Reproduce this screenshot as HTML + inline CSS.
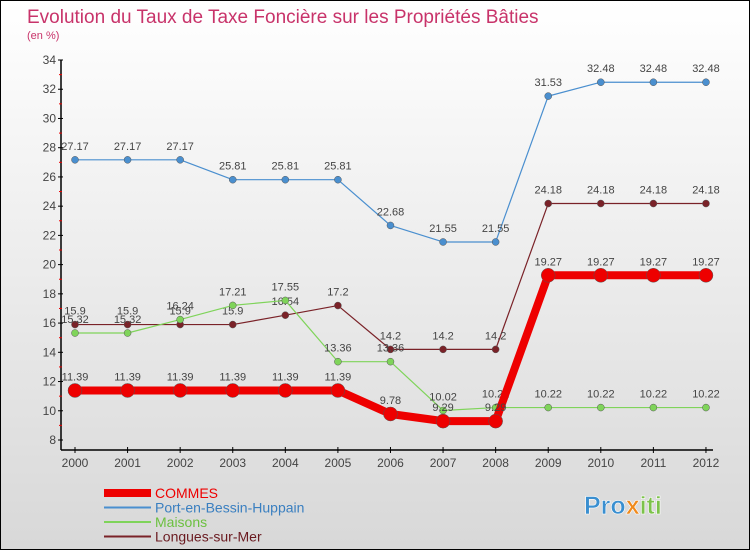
<!DOCTYPE html>
<html><head><meta charset="utf-8"><style>
body{margin:0}
#c{width:750px;height:550px;position:relative;box-sizing:border-box;border:1px solid #000;background:linear-gradient(#ffffff,#d8d8d8);font-family:"Liberation Sans",sans-serif}
</style></head><body>
<div id="c">
<svg id="s" width="748" height="548" xmlns="http://www.w3.org/2000/svg">
<text x="26" y="22" font-size="19" fill="#c8336a">Evolution du Taux de Taxe Foncière sur les Propriétés Bâties</text>
<text x="26" y="38" font-size="11" fill="#c8336a">(en %)</text>
<g id="axes"></g><g id="series"></g><g id="legend"></g>
<text x="583" y="513" font-size="25" font-weight="bold" fill="#3a8fd0" stroke="#fff" stroke-width="0.6">Pro<tspan fill="#f08a1c">x</tspan><tspan fill="#7cc24a">iti</tspan></text>
</svg>
</div>
<script>
const years=["2000","2001","2002","2003","2004","2005","2006","2007","2008","2009","2010","2011","2012"];
const yTicks=[8,10,12,14,16,18,20,22,24,26,28,30,32,34];
const commes=[11.39,11.39,11.39,11.39,11.39,11.39,9.78,9.29,9.29,19.27,19.27,19.27,19.27];
const port=[27.17,27.17,27.17,25.81,25.81,25.81,22.68,21.55,21.55,31.53,32.48,32.48,32.48];
const maisons=[15.32,15.32,16.24,17.21,17.55,13.36,13.36,10.02,10.22,10.22,10.22,10.22,10.22];
const longues=[15.9,15.9,15.9,15.9,16.54,17.2,14.2,14.2,14.2,24.18,24.18,24.18,24.18];
const seriesNames=["COMMES","Port-en-Bessin-Huppain","Maisons","Longues-sur-Mer"];
const NS="http://www.w3.org/2000/svg";
const X=i=>74+i*52.58, Y=v=>439-(v-8)*14.615;
function el(t,a,p){const e=document.createElementNS(NS,t);for(const k in a)e.setAttribute(k,a[k]);p.appendChild(e);return e;}
const ax=document.getElementById('axes');
let l=el('line',{x1:60,y1:59,x2:60,y2:449,stroke:'#000','stroke-width':1.5},ax);


l=el('line',{x1:60,y1:449,x2:712,y2:449,stroke:'#000','stroke-width':1.5},ax);


yTicks.forEach(v=>{el('line',{x1:57,x2:62,y1:Y(v),y2:Y(v),stroke:'#000'},ax);
 if(v<34)el('line',{x1:58,x2:61,y1:Y(v+1),y2:Y(v+1),stroke:'#e00'},ax);
 const t=el('text',{x:55,y:Y(v)+4,'font-size':12,fill:'#444','text-anchor':'end'},ax);t.textContent=v;
 
 });
years.forEach((y,i)=>{el('line',{x1:X(i),x2:X(i),y1:446,y2:452,stroke:'#000'},ax);
 const t=el('text',{x:X(i),y:466,'font-size':12,fill:'#444','text-anchor':'middle'},ax);t.textContent=y;
 
 });
const sg=document.getElementById('series');
function draw(data,color,w,r,name){
 const p=el('polyline',{points:data.map((v,i)=>X(i)+','+Y(v)).join(' '),fill:'none',stroke:color,'stroke-width':w,'stroke-linejoin':'round'},sg);
 
 
 data.forEach((v,i)=>{const c=el('circle',{cx:X(i),cy:Y(v),r:r,fill:color,stroke:'#555','stroke-width':0.5},sg);
  
  
  const t=el('text',{x:X(i),y:Y(v)-10,'font-size':11,fill:'#444','text-anchor':'middle'},sg);t.textContent=v;
  
  });
}
draw(port,'#4a8fcf',1.2,3.5,'port');
draw(longues,'#7a2228',1.2,3.5,'longues');
draw(maisons,'#7fd45a',1.2,3.5,'maisons');
draw(commes,'#ee0000',8,7,'commes');
const lg=document.getElementById('legend');
const cols=['#ee0000','#4a8fcf','#7fd45a','#7a2228'],ws=[8,2,2,2];
const tcols=['#ee0000','#3a7fc0','#6cc040','#6a1a20'];
seriesNames.forEach((n,i)=>{const y=492+i*14.5;
 const ln=el('line',{x1:103,x2:150,y1:y,y2:y,stroke:cols[i],'stroke-width':ws[i]},lg);
 
 
 const t=el('text',{x:154,y:y+5,'font-size':14,fill:tcols[i]},lg);t.textContent=n;
 
 });
</script>
</body></html>
